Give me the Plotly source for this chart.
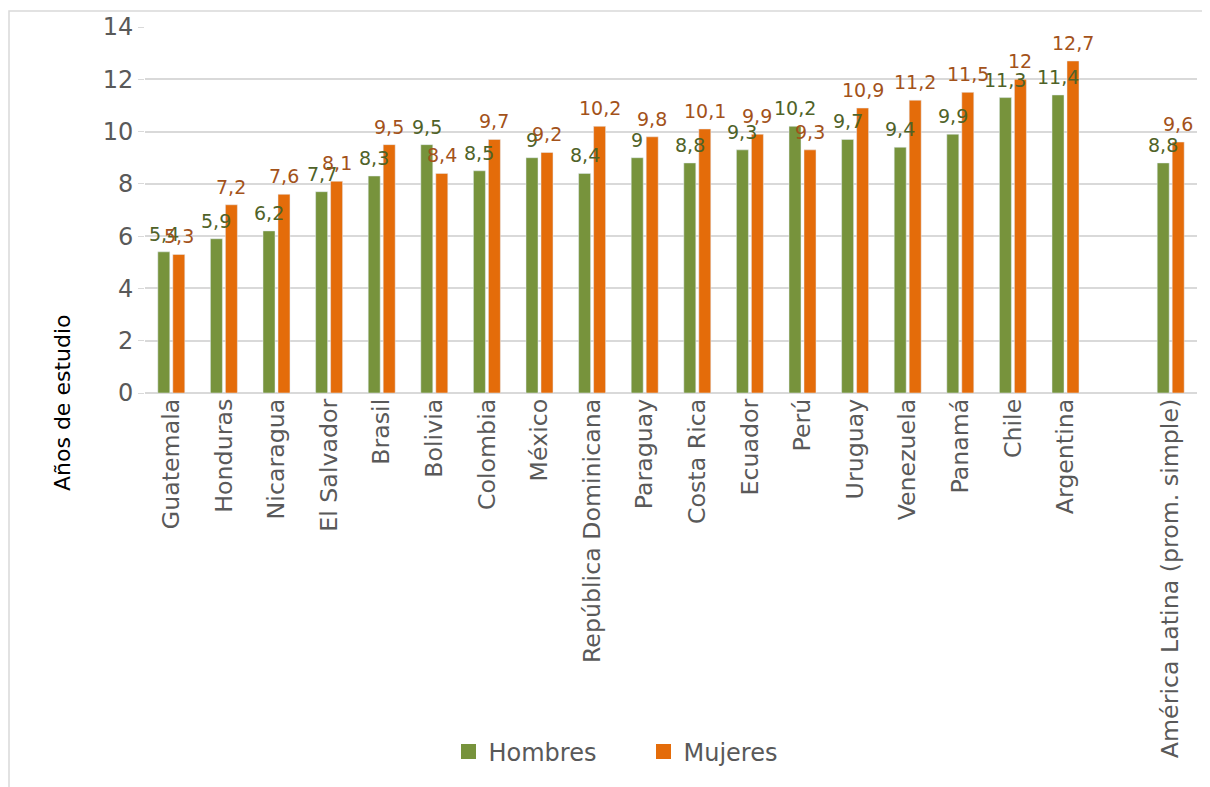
import plotly.graph_objects as go

categories = ["Guatemala", "Honduras", "Nicaragua", "El Salvador", "Brasil", "Bolivia",
              "Colombia", "México", "República Dominicana", "Paraguay", "Costa Rica",
              "Ecuador", "Perú", "Uruguay", "Venezuela", "Panamá", "Chile", "Argentina",
              " ", "América Latina (prom. simple)"]
hombres = [5.4, 5.9, 6.2, 7.7, 8.3, 9.5, 8.5, 9, 8.4, 9, 8.8, 9.3, 10.2, 9.7, 9.4, 9.9,
           11.3, 11.4, None, 8.8]
mujeres = [5.3, 7.2, 7.6, 8.1, 9.5, 8.4, 9.7, 9.2, 10.2, 9.8, 10.1, 9.9, 9.3, 10.9, 11.2,
           11.5, 12, 12.7, None, 9.6]
y_ticks = [0, 2, 4, 6, 8, 10, 12, 14]


def fmt(v):
    if v is None:
        return ""
    return (str(int(v)) if float(v).is_integer() else str(v)).replace(".", ",")


FONT = "DejaVu Sans"
GREEN, ORANGE = "#77933c", "#e46c0a"
GREEN_TXT, ORANGE_TXT = "#4f6228", "#a3521a"

fig = go.Figure()
fig.add_trace(go.Bar(name="Hombres", x=categories, y=hombres, marker_color=GREEN,
                     showlegend=False))
fig.add_trace(go.Bar(name="Mujeres", x=categories, y=mujeres, marker_color=ORANGE,
                     showlegend=False))
# legend entries (square markers like the reference)
for nm, col in [("Hombres", GREEN), ("Mujeres", ORANGE)]:
    fig.add_trace(go.Scatter(x=[None], y=[None], mode="markers", name=nm,
                             marker=dict(symbol="square", size=15, color=col)))

# page offset of 8px (body margin) compensated
OFF = 8
Lp, Rp, Tp, Bp = 145, 1197, 27, 393   # plot area in page pixels
W, H = 1210 - OFF, 787 - OFF
L, T = Lp - OFF, Tp - OFF
R = (OFF + W) - Rp
B = (OFF + H) - Bp
pw, ph = Rp - Lp, Bp - Tp


def px(xp):
    return (xp - Lp) / pw


def py(yp):
    return (Bp - yp) / ph


BARGAP, GROUPGAP = 0.43, 0.2
slot = pw / len(categories)
shift = slot * (1 - BARGAP) / 4

annotations = []
for vals, sgn, col in [(hombres, -1, GREEN_TXT), (mujeres, 1, ORANGE_TXT)]:
    for c, v in zip(categories, vals):
        if v is None:
            continue
        annotations.append(dict(x=c, y=v, xref="x", yref="y", text=fmt(v),
                                showarrow=False, xanchor="center", yanchor="bottom",
                                xshift=sgn * shift, yshift=5,
                                font=dict(size=19, color=col, family=FONT)))
annotations.append(dict(text="Años de estudio", textangle=-90, showarrow=False,
                        xref="paper", yref="paper", x=px(62), y=py(403),
                        xanchor="center", yanchor="middle",
                        font=dict(size=22, color="black", family=FONT)))

fig.update_layout(
    width=W, height=H,
    margin=dict(l=L, r=R, t=T, b=B, autoexpand=False),
    paper_bgcolor="white", plot_bgcolor="white",
    font=dict(family=FONT, color="#595959"),
    barmode="group", bargap=BARGAP, bargroupgap=GROUPGAP,
    showlegend=True,
    legend=dict(orientation="h", x=px(448.5), xanchor="left",
                y=py(752), yanchor="middle",
                font=dict(size=24, color="#595959", family=FONT),
                itemwidth=30, entrywidthmode="pixels", entrywidth=150),
    xaxis=dict(type="category", tickangle=-90, tickfont=dict(size=23.7, color="#595959"),
               showgrid=False, showline=False, ticks="", fixedrange=True,
               automargin=False),
    yaxis=dict(range=[0, 14], tickvals=y_ticks, tickfont=dict(size=24, color="#595959"),
               gridcolor="#d9d9d9", gridwidth=1.5, zeroline=True, zerolinecolor="#d9d9d9",
               zerolinewidth=1.5, ticks="outside", ticklen=6, tickcolor="#d9d9d9",
               showline=False, fixedrange=True, automargin=False),
    annotations=annotations,
    shapes=[dict(type="rect", xref="paper", yref="paper",
                 x0=px(9), x1=px(1230),
                 y0=py(800), y1=py(11),
                 line=dict(color="#d9d9d9", width=1.5), fillcolor="rgba(0,0,0,0)",
                 layer="below")],
)

fig.write_html("out.html")
